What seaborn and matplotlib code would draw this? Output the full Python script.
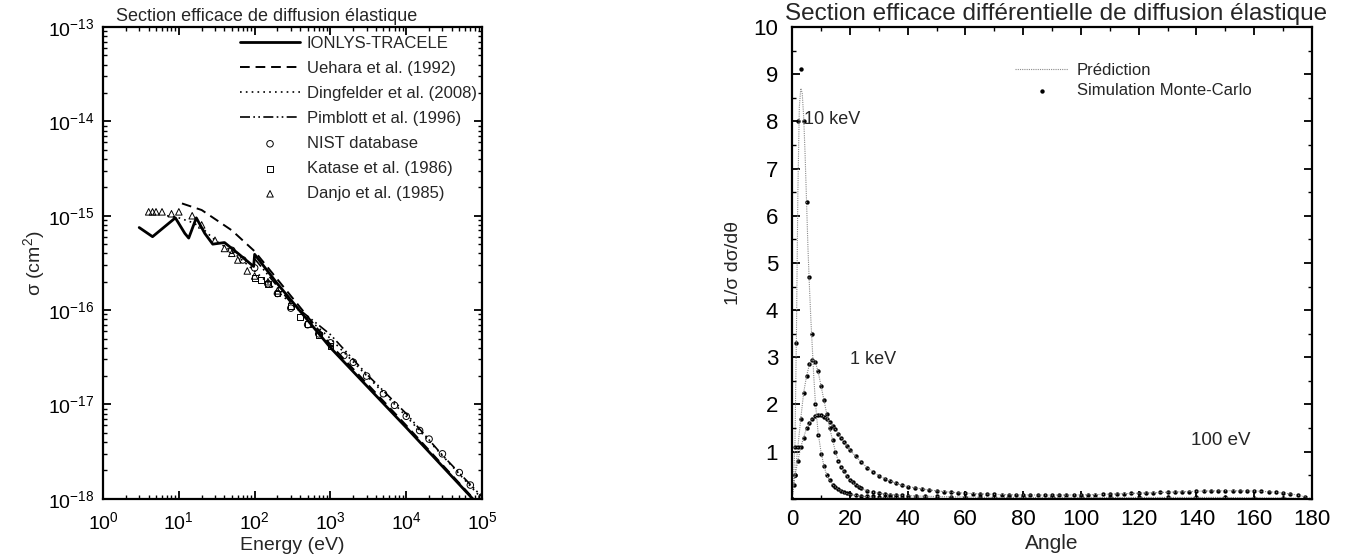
import numpy as np
import pandas as pd
import matplotlib
matplotlib.use("Agg")
import matplotlib.pyplot as plt
from matplotlib.ticker import FixedLocator, MultipleLocator, NullFormatter
import seaborn as sns

# ---------------- data: left panel (elastic cross section) ----------------
ionlys_E = [3, 4.5, 9, 12, 13.5, 17, 22, 28, 40, 60, 80, 97, 100, 200, 1000, 10000, 80000]
ionlys_s = [7.5e-16, 6.0e-16, 9.5e-16, 6.5e-16, 5.8e-16, 9.5e-16, 6.5e-16, 5.0e-16, 5.2e-16,
            4.0e-16, 3.3e-16, 2.9e-16, 3.9e-16, 1.9e-16, 4.0e-17, 5.7e-18, 9.5e-19]

uehara_E = [11, 20, 50, 100, 1000, 10000, 100000]
uehara_s = [1.35e-15, 1.15e-15, 7.0e-16, 4.2e-16, 4.3e-17, 6.0e-18, 8.0e-19]

dingf_E = [7, 10, 15, 20, 30, 50, 100, 1000, 10000, 100000]
dingf_s = [1.0e-15, 9.5e-16, 8.5e-16, 7.5e-16, 5.5e-16, 4.2e-16, 2.6e-16, 5.0e-17, 7.5e-18, 1.0e-18]

pimb_E = [100, 300, 1000, 3000, 10000, 30000, 100000]
pimb_s = [3.5e-16, 1.2e-16, 5.5e-17, 2.1e-17, 8.0e-18, 2.9e-18, 1.05e-18]

nist_E = [50, 70, 100, 150, 200, 300, 500, 700, 1000, 1500, 2000, 3000, 5000, 7000,
          10000, 15000, 20000, 30000, 50000, 70000, 100000]
nist_s = [4.3e-16, 3.4e-16, 2.8e-16, 1.9e-16, 1.5e-16, 1.05e-16, 7.0e-17, 5.6e-17, 4.5e-17,
          3.3e-17, 2.8e-17, 2.0e-17, 1.3e-17, 9.8e-18, 7.5e-18, 5.3e-18, 4.3e-18,
          3.0e-18, 1.9e-18, 1.4e-18, 1.05e-18]

katase_E = [100, 120, 150, 200, 300, 400, 500, 700, 1000]
katase_s = [2.2e-16, 2.1e-16, 1.9e-16, 1.5e-16, 1.1e-16, 8.5e-17, 7.2e-17, 5.5e-17, 4.2e-17]

danjo_E = [4, 4.5, 5, 6, 8, 10, 15, 20, 30, 40, 50, 60, 80, 100, 150, 200]
danjo_s = [1.1e-15, 1.1e-15, 1.1e-15, 1.1e-15, 1.05e-15, 1.1e-15, 1.0e-15, 8.0e-16,
           5.5e-16, 4.5e-16, 4.0e-16, 3.4e-16, 2.6e-16, 2.3e-16, 2.0e-16, 1.6e-16]

x_ticks_L = [1, 10, 100, 1000, 10000, 100000]
y_ticks_L = [1e-18, 1e-17, 1e-16, 1e-15, 1e-14, 1e-13]

# ---------------- data: right panel (differential cross section) ----------------
ang_10k = [0, 0.5, 1, 1.5, 2, 2.5, 3, 3.5, 4, 4.5, 5, 5.5, 6, 6.5, 7, 7.5, 8, 9, 10, 11, 12,
           14, 16, 18, 20, 25, 30, 40, 60, 80, 100, 120, 140, 160, 180]
pred_10k = [0, 0.4, 1.2, 3.5, 6.5, 8.3, 8.7, 8.6, 8.1, 7.3, 6.3, 5.3, 4.5, 3.8, 3.2, 2.6,
            2.1, 1.4, 1.0, 0.7, 0.5, 0.3, 0.2, 0.13, 0.09, 0.05, 0.03, 0.02, 0.01, 0.01,
            0.01, 0.01, 0.01, 0.01, 0]
mc_ang_10k = [0.5, 1, 1.5, 2, 3, 4, 5, 6, 7, 8, 9, 10, 11, 12, 13, 14, 15, 16, 17, 18, 19,
              20, 22, 24, 26, 28, 30, 32, 34, 36, 38, 40, 43, 46, 50, 55, 60]
mc_10k = [0.3, 1.1, 3.3, 8.0, 9.1, 8.0, 6.3, 4.7, 3.5, 2.0, 1.35, 0.95, 0.7, 0.5, 0.4, 0.3,
          0.25, 0.2, 0.17, 0.14, 0.12, 0.1, 0.08, 0.07, 0.06, 0.05, 0.04, 0.035, 0.03,
          0.03, 0.025, 0.02, 0.02, 0.02, 0.02, 0.015, 0.015]

ang_1k = [0, 1, 2, 3, 4, 5, 6, 7, 8, 9, 10, 11, 12, 13, 14, 15, 16, 17, 18, 19, 20, 21, 22,
          23, 24, 26, 28, 30, 32, 34, 36, 38, 40, 43, 46, 50, 55, 60, 65, 70, 75, 80, 90,
          100, 110, 120, 130, 140, 150, 160, 170, 180]
pred_1k = [0, 0.5, 1.1, 1.7, 2.25, 2.6, 2.85, 2.95, 2.9, 2.7, 2.4, 2.1, 1.8, 1.5, 1.25,
           1.0, 0.8, 0.68, 0.58, 0.48, 0.4, 0.35, 0.3, 0.26, 0.22, 0.17, 0.14, 0.12, 0.1,
           0.09, 0.08, 0.075, 0.07, 0.06, 0.055, 0.05, 0.045, 0.04, 0.035, 0.03, 0.03,
           0.03, 0.03, 0.03, 0.03, 0.03, 0.03, 0.03, 0.03, 0.02, 0.02, 0]
mc_1k = pred_1k

ang_100 = [0, 1, 2, 3, 4, 5, 6, 7, 8, 9, 10, 11, 12, 13, 14, 15, 16, 17, 18, 19, 20, 22,
           24, 26, 28, 30, 32, 34, 36, 38, 40, 42.5, 45, 47.5, 50, 52.5, 55, 57.5, 60, 62.5,
           65, 67.5, 70, 72.5, 75, 77.5, 80, 82.5, 85, 87.5, 90, 92.5, 95, 97.5, 100,
           102.5, 105, 107.5, 110, 112.5, 115, 117.5, 120, 122.5, 125, 127.5, 130, 132.5,
           135, 137.5, 140, 142.5, 145, 147.5, 150, 152.5, 155, 157.5, 160, 162.5, 165,
           167.5, 170, 172.5, 175, 177.5, 180]
pred_100 = [0, 0.5, 0.8, 1.1, 1.3, 1.5, 1.6, 1.7, 1.75, 1.78, 1.77, 1.74, 1.7, 1.62, 1.55,
            1.47, 1.38, 1.3, 1.2, 1.12, 1.04, 0.9, 0.78, 0.66, 0.57, 0.49, 0.43, 0.38, 0.33,
            0.29, 0.26, 0.235, 0.21, 0.19, 0.17, 0.155, 0.14, 0.13, 0.12, 0.112, 0.105,
            0.1, 0.095, 0.09, 0.088, 0.085, 0.083, 0.082, 0.081, 0.08, 0.08, 0.08, 0.081,
            0.082, 0.084, 0.087, 0.09, 0.094, 0.1, 0.105, 0.11, 0.115, 0.12, 0.125, 0.13,
            0.135, 0.14, 0.145, 0.15, 0.155, 0.16, 0.165, 0.168, 0.17, 0.172, 0.172, 0.17,
            0.168, 0.165, 0.158, 0.15, 0.14, 0.125, 0.105, 0.08, 0.045, 0]
mc_100 = pred_100

# ---------------- style ----------------
sns.set_theme(style="white")
plt.rcParams["font.family"] = ["Liberation Sans", "DejaVu Sans"]
plt.rcParams["mathtext.fontset"] = "custom"
plt.rcParams["mathtext.rm"] = "Liberation Sans"
plt.rcParams["mathtext.it"] = "Liberation Sans:italic"
plt.rcParams["mathtext.default"] = "regular"

fig = plt.figure(figsize=(13.61, 5.58), dpi=100)
axL = fig.add_axes([0.0757, 0.106, 0.2785, 0.8456])
axR = fig.add_axes([0.582, 0.106, 0.382, 0.8456])

# ---------------- left panel ----------------
sns.lineplot(x=ionlys_E, y=ionlys_s, ax=axL, color="black", lw=2.0, sort=False,
             label="IONLYS-TRACELE")
sns.lineplot(x=uehara_E, y=uehara_s, ax=axL, color="black", lw=1.4, sort=False,
             label="Uehara et al. (1992)", linestyle=(0, (5, 3)))
sns.lineplot(x=dingf_E, y=dingf_s, ax=axL, color="black", lw=1.2, sort=False,
             label="Dingfelder et al. (2008)", linestyle=(0, (1, 2.5)))
sns.lineplot(x=pimb_E, y=pimb_s, ax=axL, color="black", lw=1.2, sort=False,
             label="Pimblott et al. (1996)", linestyle=(0, (6, 2, 1, 2, 1, 2)))
sns.scatterplot(x=nist_E, y=nist_s, ax=axL, marker="o", s=22, facecolors="none",
                edgecolor="black", linewidth=0.7, label="NIST database")
sns.scatterplot(x=katase_E, y=katase_s, ax=axL, marker="s", s=18, facecolors="none",
                edgecolor="black", linewidth=0.7, label="Katase et al. (1986)")
sns.scatterplot(x=danjo_E, y=danjo_s, ax=axL, marker="^", s=22, facecolors="none",
                edgecolor="black", linewidth=0.7, label="Danjo et al. (1985)")

axL.set_xscale("log")
axL.set_yscale("log")
axL.set_xlim(1, 1e5)
axL.set_ylim(1e-18, 1e-13)
axL.xaxis.set_major_locator(FixedLocator(x_ticks_L))
axL.yaxis.set_major_locator(FixedLocator(y_ticks_L))
x_minor = [m * d for d in x_ticks_L[:-1] for m in range(2, 10)]
y_minor = [m * d for d in y_ticks_L[:-1] for m in range(2, 10)]
axL.xaxis.set_minor_locator(FixedLocator(x_minor))
axL.yaxis.set_minor_locator(FixedLocator(y_minor))
axL.xaxis.set_minor_formatter(NullFormatter())
axL.yaxis.set_minor_formatter(NullFormatter())
axL.set_xlabel("Energy (eV)", fontsize=14, labelpad=3)
axL.set_ylabel("σ (cm$^2$)", fontsize=14, labelpad=1)
axL.legend(loc="upper right", frameon=False, fontsize=12, handlelength=3.6,
           handletextpad=0.4, labelspacing=0.6, borderaxespad=0.15,
           bbox_to_anchor=(1.01, 1.0))

# ---------------- right panel ----------------
pcol = "#8a8a8a"
sns.lineplot(x=ang_10k, y=pred_10k, ax=axR, color=pcol, lw=0.8, linestyle=(0, (1, 1)),
             sort=False, label="Prédiction")
sns.lineplot(x=ang_1k, y=pred_1k, ax=axR, color=pcol, lw=0.8, linestyle=(0, (1, 1)), sort=False)
sns.lineplot(x=ang_100, y=pred_100, ax=axR, color=pcol, lw=0.8, linestyle=(0, (1, 1)), sort=False)
sns.scatterplot(x=mc_ang_10k, y=mc_10k, ax=axR, color="black", s=10, marker="o",
                linewidth=0, label="Simulation Monte-Carlo")
sns.scatterplot(x=ang_1k, y=mc_1k, ax=axR, color="black", s=10, marker="o", linewidth=0)
sns.scatterplot(x=ang_100, y=mc_100, ax=axR, color="black", s=10, marker="o", linewidth=0)

axR.set_xlim(0, 180)
axR.set_ylim(0, 10)
axR.xaxis.set_major_locator(MultipleLocator(20))
axR.xaxis.set_minor_locator(MultipleLocator(10))
axR.yaxis.set_minor_locator(MultipleLocator(0.5))
axR.set_yticks([1, 2, 3, 4, 5, 6, 7, 8, 9, 10])
axR.set_xlabel("Angle", fontsize=15, labelpad=3)
axR.set_ylabel("1/σ dσ/dθ", fontsize=14, labelpad=8)
axR.legend(loc="upper left", bbox_to_anchor=(0.40, 0.955), frameon=False, fontsize=12,
           handlelength=3.2, handletextpad=0.5, labelspacing=0.3)
axR.text(4, 7.95, "10 keV", fontsize=13)
axR.text(20, 2.85, "1 keV", fontsize=13)
axR.text(138, 1.15, "100 eV", fontsize=13.5)

for ax in (axL, axR):
    for sp in ax.spines.values():
        sp.set_visible(True)
        sp.set_color("black")
        sp.set_linewidth(1.6)
    ax.tick_params(which="both", direction="in", top=True, right=True, bottom=True,
                   left=True, colors="black")
    ax.tick_params(which="major", length=6, width=1.3)
    ax.tick_params(which="minor", length=3, width=1.0)
axL.tick_params(axis="both", which="major", labelsize=14)
axL.tick_params(axis="x", which="major", pad=9)
axL.tick_params(axis="y", which="major", pad=6)
axR.tick_params(axis="both", which="major", labelsize=16)
axR.tick_params(axis="x", which="major", pad=7)
axR.tick_params(axis="y", which="major", pad=10)

fig.text(0.196, 0.955, "Section efficace de diffusion élastique", fontsize=13,
         ha="center", va="bottom")
fig.text(0.776, 0.956, "Section efficace différentielle de diffusion élastique",
         fontsize=17.5, ha="center", va="bottom")

fig.savefig("out.png", dpi=100, facecolor="white")
